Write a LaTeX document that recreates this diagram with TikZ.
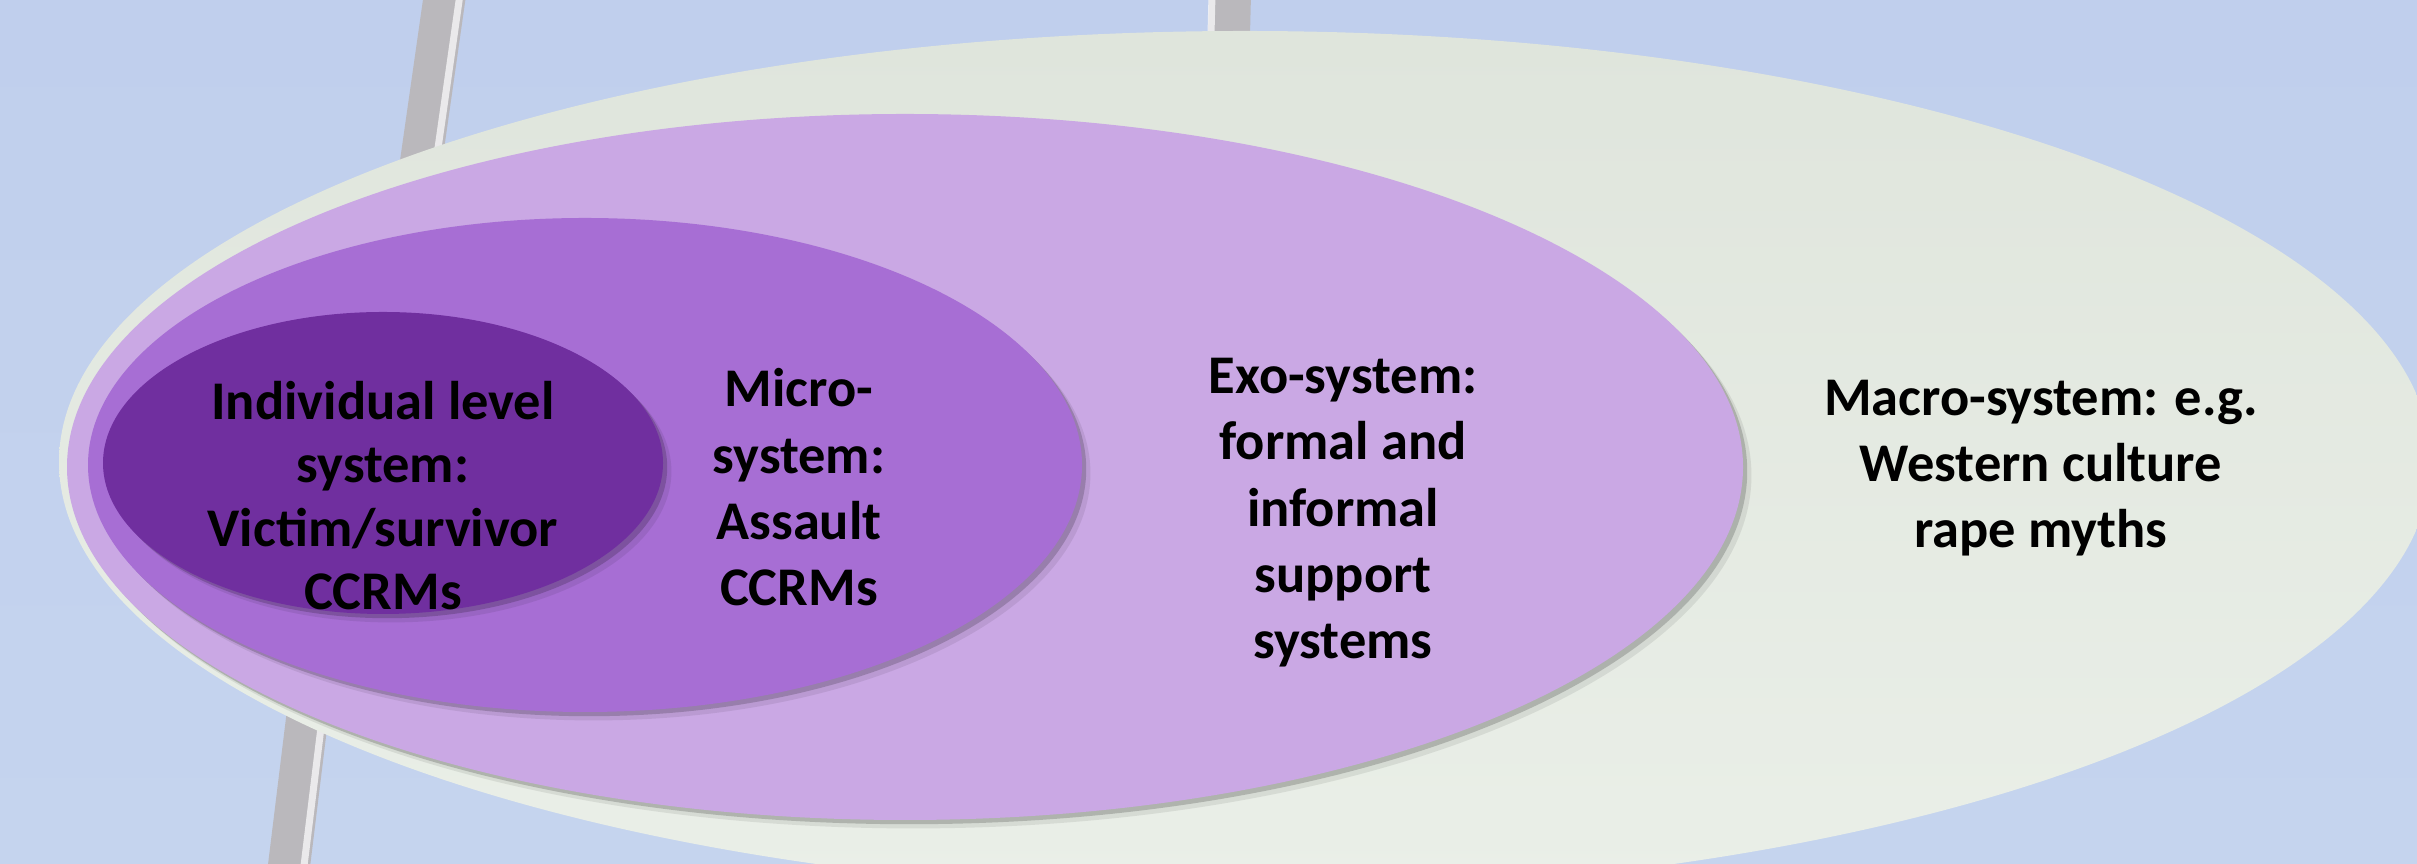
\documentclass[tikz,border=0pt]{standalone}
\usepackage{fontspec}
\setmainfont{Carlito}
\usetikzlibrary{shapes.geometric,shadows}

\definecolor{bgblue}{RGB}{192,207,237}
\definecolor{bgblue2}{RGB}{197,212,238}
\definecolor{macrogreen}{RGB}{223,229,220}
\definecolor{macrogreen2}{RGB}{234,239,232}
\definecolor{exolilac}{RGB}{202,168,228}
\definecolor{microlilac}{RGB}{167,110,212}
\definecolor{indivpurple}{RGB}{112,47,159}
\definecolor{ropegray}{RGB}{186,184,188}

\tikzset{
	sysellipse/.style={ellipse, inner sep=0pt, outer sep=0pt},
	softshadow/.style={drop shadow={shadow xshift=2.4pt, shadow yshift=-2.4pt, fill=black, opacity=.08},
		drop shadow={shadow xshift=1.2pt, shadow yshift=-1.2pt, fill=black, opacity=.18}},
	systext/.style={align=center, inner sep=0pt, anchor=base, font=\fontsize{15.5}{18.9}\selectfont\bfseries},
	rope/.style={line width=0.42cm, ropegray},
	ropeshine/.style={line width=0.07cm, white, opacity=.7},
}

\begin{document}
\begin{tikzpicture}
	\useasboundingbox (0,0) rectangle (24.17,8.64);
	\clip (0,0) rectangle (24.17,8.64);
	\shade [top color=bgblue, bottom color=bgblue2] (0,0) rectangle (24.17,8.64);
	% strings behind the ellipses
	\draw [rope] (4.45,8.70) -- (4.15,6.60);
	\draw [ropeshine] (4.60,8.70) -- (4.30,6.60);
	\draw [rope] (3.15,2.10) -- (2.88,-0.10);
	\draw [ropeshine] (3.30,2.10) -- (3.03,-0.10);
	\draw [rope] (12.30,8.70) -- (12.28,7.90);
	\draw [ropeshine] (12.12,8.70) -- (12.10,7.90);
	% systems, outer to inner
	\node [sysellipse, top color=macrogreen, bottom color=macrogreen2,
		minimum width=23.72cm, minimum height=8.62cm] (macro) at (12.45,4.02) {};
	\node [sysellipse, fill=exolilac, softshadow, minimum width=16.76cm, minimum height=7.06cm] (exo) at (9.05,3.97) {};
	\node [sysellipse, fill=microlilac, softshadow, minimum width=9.94cm, minimum height=4.94cm] (micro) at (5.85,3.99) {};
	\node [sysellipse, fill=indivpurple, softshadow, minimum width=5.60cm, minimum height=3.02cm] (indiv) at (3.83,4.01) {};
	% labels (anchored at the last baseline)
	\node [systext, font=\fontsize{15.5}{18.1}\selectfont\bfseries] (indivtext) at (3.83,2.54)
		{Individual level\\system:\\Victim/survivor\\CCRMs};
	\node [systext] (microtext) at (7.99,2.58) {Micro-\\system:\\Assault\\CCRMs};
	\node [systext] (exotext) at (13.43,2.05) {Exo-system:\\formal and\\informal\\support\\systems};
	\node [systext] (macrotext) at (20.41,3.16) {Macro-system: e.g.\\Western culture\\rape myths};
\end{tikzpicture}
\end{document}
